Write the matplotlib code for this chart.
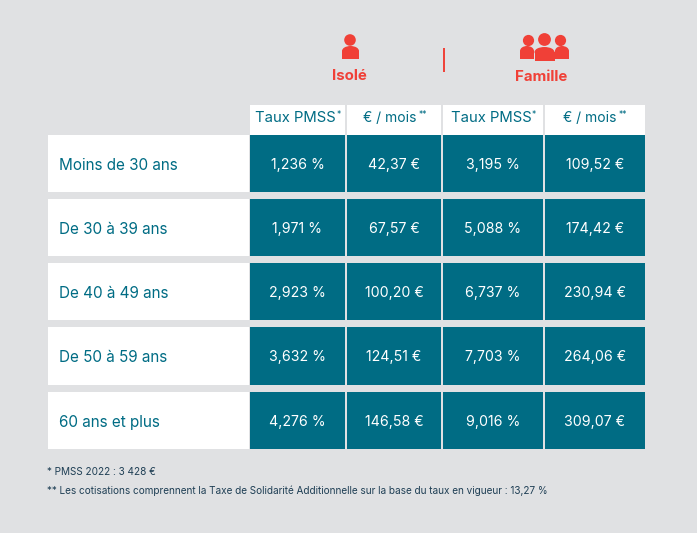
import matplotlib
matplotlib.use('Agg')
import matplotlib.pyplot as plt
from matplotlib.patches import Rectangle, Circle, Ellipse

bg_gray = '#E0E1E3'
teal = '#006C84'
red = '#F04037'
dark_text = '#1F3F55'

age_labels = ['Moins de 30 ans', 'De 30 à 39 ans', 'De 40 à 49 ans', 'De 50 à 59 ans', '60 ans et plus']
isole_taux = ['1,236 %', '1,971 %', '2,923 %', '3,632 %', '4,276 %']
isole_euros = ['42,37 €', '67,57 €', '100,20 €', '124,51 €', '146,58 €']
famille_taux = ['3,195 %', '5,088 %', '6,737 %', '7,703 %', '9,016 %']
famille_euros = ['109,52 €', '174,42 €', '230,94 €', '264,06 €', '309,07 €']
header_labels = ['Taux PMSS', '€ / mois', 'Taux PMSS', '€ / mois']
header_marks = ['*', '**', '*', '**']
group_labels = ['Isolé', 'Famille']
footnotes = ['* PMSS 2022 : 3 428 €',
             '** Les cotisations comprennent la Taxe de Solidarité Additionnelle sur la base du taux en vigueur : 13,27 %']

plt.rcParams['font.family'] = ['Inter', 'DejaVu Sans']

col_edges = [(250, 345), (347, 441), (443, 543), (545, 645)]
row_edges = [(135, 192), (199, 256), (263, 320), (327, 385), (392, 449)]


def drawPerson(ax, cx, head_y, head_r, x0, x1, top, bottom):
    ax.add_patch(Circle((cx, head_y), head_r, color=red, lw=0))
    mid = top + 5
    ax.add_patch(Ellipse(((x0 + x1) / 2, mid), x1 - x0, 10, color=red, lw=0))
    ax.add_patch(Rectangle((x0, mid), x1 - x0, bottom - mid, color=red, lw=0))


fig = plt.figure(figsize=(6.97, 5.33), dpi=100, facecolor=bg_gray)
ax = fig.add_axes([0, 0, 1, 1])
ax.set_xlim(0, 697)
ax.set_ylim(533, 0)
ax.axis('off')

# icons
drawPerson(ax, 350, 40, 5.8, 342, 359, 46, 59)
drawPerson(ax, 528.5, 40.5, 5.6, 520, 534, 46, 59)
drawPerson(ax, 560.5, 40.5, 5.6, 555, 569, 46, 59)
drawPerson(ax, 544.5, 39.5, 6.4, 534.5, 554.5, 47, 61)
ax.plot([444, 444], [48, 72], color=red, lw=1.4, solid_capstyle='butt')

ax.text(349, 76, group_labels[0], color=red, fontsize=10.8, fontweight='bold', ha='center', va='center')
ax.text(541.5, 77, group_labels[1], color=red, fontsize=10.8, fontweight='bold', ha='center', va='center')

# header
label_x = [295.5, 390, 491.5, 590]
mark_x = [338.5, 422.5, 534, 622.5]
label_sizes = [10.7, 10, 10.7, 10]
for (x0, x1), label, mark, lx, mx, size in zip(col_edges, header_labels, header_marks, label_x, mark_x, label_sizes):
    ax.add_patch(Rectangle((x0, 105), x1 - x0, 30, color='white', lw=0))
    ax.text(lx, 117.5, label, color=teal, fontsize=size, ha='center', va='center')
    ax.text(mx, 114, mark, color=teal, fontsize=6, ha='center', va='center')

# rows
values = [isole_taux, isole_euros, famille_taux, famille_euros]
for i, (y0, y1) in enumerate(row_edges):
    ym = (y0 + y1) / 2 + 1
    ax.add_patch(Rectangle((48, y0), 201, y1 - y0, color='white', lw=0))
    ax.text(59, ym + 1, age_labels[i], color=teal, fontsize=11, ha='left', va='center')
    for (x0, x1), col in zip(col_edges, values):
        ax.add_patch(Rectangle((x0, y0), x1 - x0, y1 - y0, color=teal, lw=0))
        ax.text((x0 + x1) / 2, ym + 0.5, col[i], color='white', fontsize=10.2, ha='center', va='center')

ax.text(47, 472, footnotes[0], color=dark_text, fontsize=7.2, ha='left', va='center')
ax.text(47, 490.5, footnotes[1], color=dark_text, fontsize=7.2, ha='left', va='center')

fig.savefig('out.png', dpi=100, facecolor=bg_gray)
